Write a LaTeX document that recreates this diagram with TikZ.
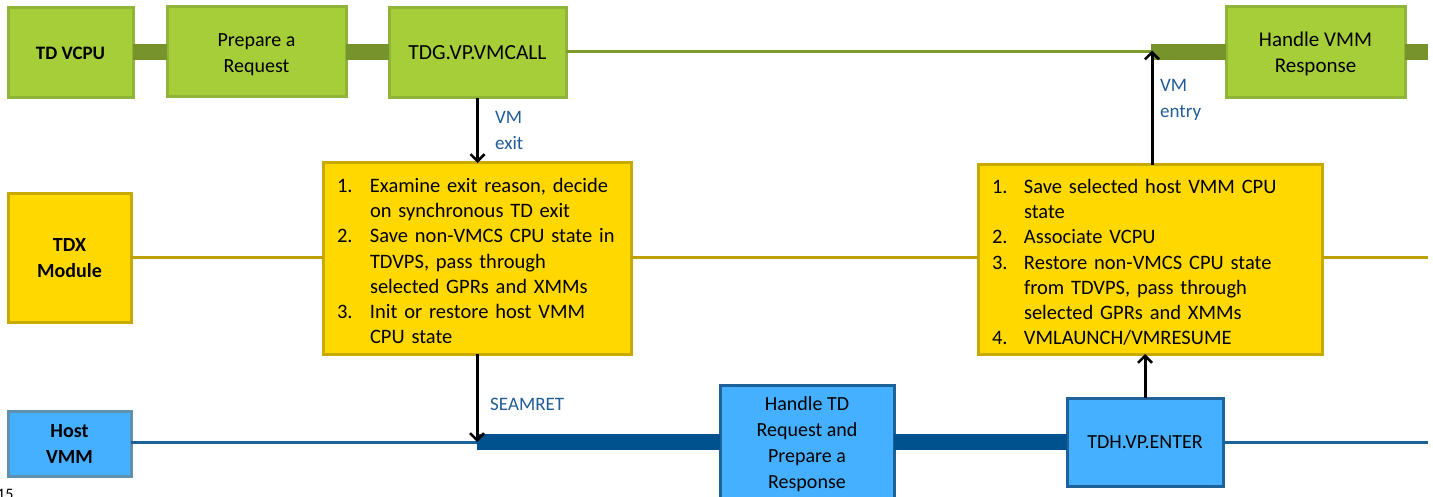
\documentclass[tikz,border=0pt]{standalone}
\usepackage{fontspec}
\setmainfont{Carlito}
\usetikzlibrary{arrows.meta}
\definecolor{gfill}{HTML}{A6CE39}
\definecolor{gdraw}{HTML}{8FB43A}
\definecolor{gbar}{HTML}{77932C}
\definecolor{yfill}{HTML}{FFD800}
\definecolor{ydraw}{HTML}{C9A800}
\definecolor{yline}{HTML}{BFA200}
\definecolor{bfill}{HTML}{45B0FF}
\definecolor{bdraw}{HTML}{1F6199}
\definecolor{hdraw}{HTML}{6090B0}
\definecolor{bbar}{HTML}{00528F}
\definecolor{lblue}{HTML}{1F5C99}
\newcommand{\lowerby}[2]{\raisebox{0pt}[\dimexpr\height+#1\relax][\depth]{#2}}
\newcommand{\twolines}[2]{\begin{tabular}{@{}c@{}}#1\\#2\end{tabular}}
\begin{document}
\begin{tikzpicture}[x=1pt,y=-1pt,
  basebox/.style={line width=3pt, inner sep=0pt, outer sep=0pt, align=center, anchor=west,
    font=\fontsize{20}{26}\selectfont},
  gbox/.style={basebox, draw=gdraw, fill=gfill},
  ybox/.style={basebox, draw=ydraw, fill=yfill},
  bbox/.style={basebox, draw=bdraw, fill=bfill},
  hbox/.style={basebox, draw=hdraw, fill=bfill},
  listbox/.style={ybox, align=left, inner xsep=14pt, inner ysep=0pt, font=\fontsize{20.5}{25.2}\selectfont},
  gthick/.style={draw=gbar, line width=16pt},
  gthin/.style={draw=gbar!85!gfill, line width=3pt},
  ythin/.style={draw=yline, line width=3pt},
  bthick/.style={draw=bbar, line width=16pt},
  bthin/.style={draw=bbar!90!white, line width=3pt},
  arr/.style={draw=black, line width=3pt, -{Straight Barb[length=7pt,width=14pt,line width=2.5pt]}},
  lbl/.style={text=lblue, align=left, anchor=north west, inner sep=0pt,
    font=\fontsize{19}{26}\selectfont}
]
\useasboundingbox (0,0) rectangle (1433,497);

% coordinates for free ends
\coordinate (gend) at (1428,52);
\coordinate (entry) at (1152,52);
\coordinate (yend) at (1428,258);
\coordinate (seam) at (477,442);
\coordinate (bend) at (1428,442);

% top lane (TD VCPU), centred on y = 52
\node[gbox, minimum width=125pt, minimum height=90pt, font=\fontsize{19}{26}\selectfont] (tdvcpu) at (8,53) {\bfseries TD VCPU};
\node[gbox, minimum width=179pt, minimum height=90pt] (prep) at (167,52) {\lowerby{4pt}{\twolines{Prepare a}{Request}}};
\node[gbox, minimum width=177pt, minimum height=90pt, font=\fontsize{21.5}{26}\selectfont] (vmcall) at (389,53) {TDG.VP.VMCALL};
\node[gbox, minimum width=179pt, minimum height=91pt, font=\fontsize{21}{26}\selectfont] (hvmm) at (1226,52) {\lowerby{4pt}{\twolines{Handle VMM}{Response}}};

% middle lane (TDX Module), centred on y = 258
\node[ybox, minimum width=123pt, minimum height=128pt] (tdx) at (8,258) {\lowerby{3pt}{\twolines{\bfseries TDX}{\bfseries Module}}};
\node[listbox, text width=280pt, minimum height=191pt] (yb1) at (323,258.5) {\lowerby{9pt}{%
\begin{tabular}{@{}p{33pt}@{}l@{}}
1. & Examine exit reason, decide\\
   & on synchronous TD exit\\
2. & Save non-VMCS CPU state in\\
   & TDVPS, pass through\\
   & selected GPRs and XMMs\\
3. & Init or restore host VMM\\
   & CPU state
\end{tabular}}};
\node[listbox, text width=316pt, minimum height=189pt] (yb2) at (978,259.5) {\lowerby{9pt}{%
\begin{tabular}{@{}p{32pt}@{}l@{}}
1. & Save selected host VMM CPU\\
   & state\\
2. & Associate VCPU\\
3. & Restore non-VMCS CPU state\\
   & from TDVPS, pass through\\
   & selected GPRs and XMMs\\
4. & VMLAUNCH/VMRESUME
\end{tabular}}};

% bottom lane (Host VMM), centred on y = 442
\node[hbox, minimum width=123pt, minimum height=65pt] (host) at (8,443.5) {\lowerby{3pt}{\twolines{\bfseries Host}{\bfseries VMM}}};
\node[bbox, minimum width=174pt, minimum height=116pt] (htd) at (720,443) {\lowerby{3pt}{\begin{tabular}{@{}c@{}}Handle TD\\Request and\\Prepare a\\Response\end{tabular}}};
\node[bbox, minimum width=156pt, minimum height=88pt] (tdh) at (1067,442) {TDH.VP.ENTER};

% green lane
\path[gthick] (tdvcpu.east |- entry) -- (prep.west |- entry);
\path[gthick] (prep.east |- entry) -- (vmcall.west |- entry);
\path[gthin] (vmcall.east |- entry) -- (entry);
\path[gthick] ([xshift=-1.5pt]entry) -- (hvmm.west |- entry);
\path[gthick] (hvmm.east |- entry) -- (gend);

% yellow lane
\path[ythin] (tdx.east |- yend) -- (yb1.west |- yend);
\path[ythin] (yb1.east |- yend) -- (yb2.west |- yend);
\path[ythin] (yb2.east |- yend) -- (yend);

% blue lane
\path[bthin] (host.east |- seam) -- (seam);
\path[bthick] (seam) -- (htd.west |- seam);
\path[bthick] (htd.east |- seam) -- (tdh.west |- seam);
\path[bthin] (tdh.east |- seam) -- (bend);

% transitions
\path[arr] (vmcall.south) -- (vmcall.south |- yb1.north);
\path[arr] (yb1.south -| seam) -- (seam);
\path[arr] (tdh.north) -- (tdh.north |- yb2.south);
\path[arr] (yb2.north -| entry) -- ([yshift=1.5pt]entry);

% labels
\node[lbl] (lexit) at (495,111) {VM\\exit};
\node[lbl] (lentry) at (1160,79) {VM\\entry};
\node[lbl] (lseam) at (490,398) {SEAMRET};
\node[anchor=north west, inner sep=0pt, font=\fontsize{16}{16}\selectfont] (pnum) at (-3,489) {15};
\end{tikzpicture}
\end{document}
